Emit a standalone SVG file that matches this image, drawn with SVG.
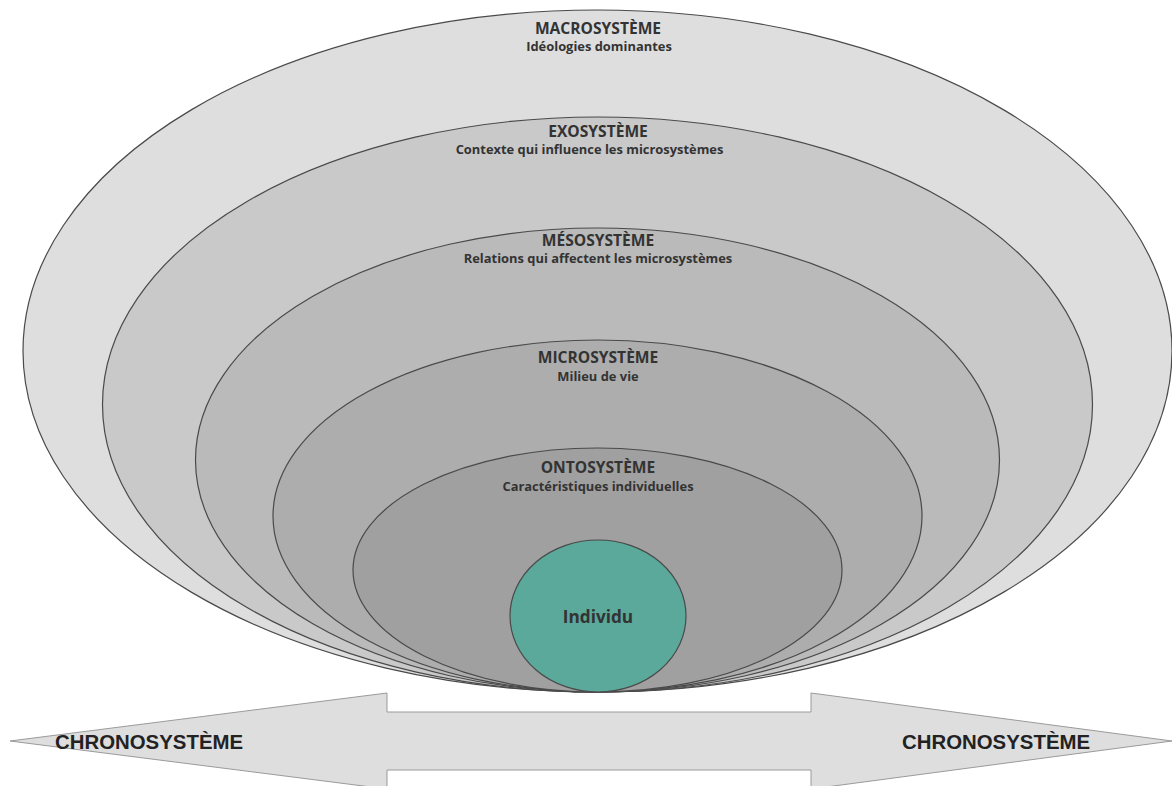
<svg xmlns="http://www.w3.org/2000/svg" width="1172" height="786" viewBox="0 0 1172 786">
<style>
.ring{stroke:#4a4a4a;stroke-width:1.2}
.t{font-family:"Open Sans","Liberation Sans",sans-serif;font-weight:bold;fill:#333;text-anchor:middle}
.h{font-size:15.6px}
.s{font-size:12.9px}
.chrono{font-family:"Liberation Sans",Arial,sans-serif;font-weight:bold;font-size:20.4px;fill:#222}
</style>
<rect width="1172" height="786" fill="#ffffff"/>
<g id="chronosysteme">
<path d="M10 741 L387 693 L387 712 L811 712 L811 693 L1172 741 L811 789 L811 770 L387 770 L387 789 Z" fill="#dedede" stroke="#9a9a9a" stroke-width="1"/>
<text class="chrono" x="55" y="749">CHRONOSYSTÈME</text>
<text class="chrono" x="902" y="749">CHRONOSYSTÈME</text>
</g>
<g id="macrosysteme">
<ellipse class="ring" cx="597.5" cy="351" rx="574.5" ry="341" fill="#dedede"/>
<text class="t h" x="598" y="34">MACROSYSTÈME</text>
<text class="t s" x="599" y="51">Idéologies dominantes</text>
</g>
<g id="exosysteme">
<ellipse class="ring" cx="597.5" cy="404.5" rx="495" ry="287.5" fill="#c9c9c9"/>
<text class="t h" x="598" y="137">EXOSYSTÈME</text>
<text class="t s" x="589.5" y="154">Contexte qui influence les microsystèmes</text>
</g>
<g id="mesosysteme">
<ellipse class="ring" cx="597.5" cy="460" rx="402" ry="232" fill="#bababa"/>
<text class="t h" x="598" y="246">MÉSOSYSTÈME</text>
<text class="t s" x="598" y="263">Relations qui affectent les microsystèmes</text>
</g>
<g id="microsysteme">
<ellipse class="ring" cx="597.5" cy="516" rx="324.5" ry="176" fill="#adadad"/>
<text class="t h" x="598" y="363">MICROSYSTÈME</text>
<text class="t s" x="598" y="381">Milieu de vie</text>
</g>
<g id="ontosysteme">
<ellipse class="ring" cx="597.5" cy="570" rx="244.5" ry="122" fill="#a0a0a0"/>
<text class="t h" x="598" y="473">ONTOSYSTÈME</text>
<text class="t s" x="598" y="491">Caractéristiques individuelles</text>
</g>
<g id="individu">
<ellipse class="ring" cx="598" cy="616" rx="88" ry="76" fill="#5aa99b"/>
<text class="t" x="598" y="623" font-size="17.2" fill="#222">Individu</text>
</g>
<g id="connectors"/>
</svg>
